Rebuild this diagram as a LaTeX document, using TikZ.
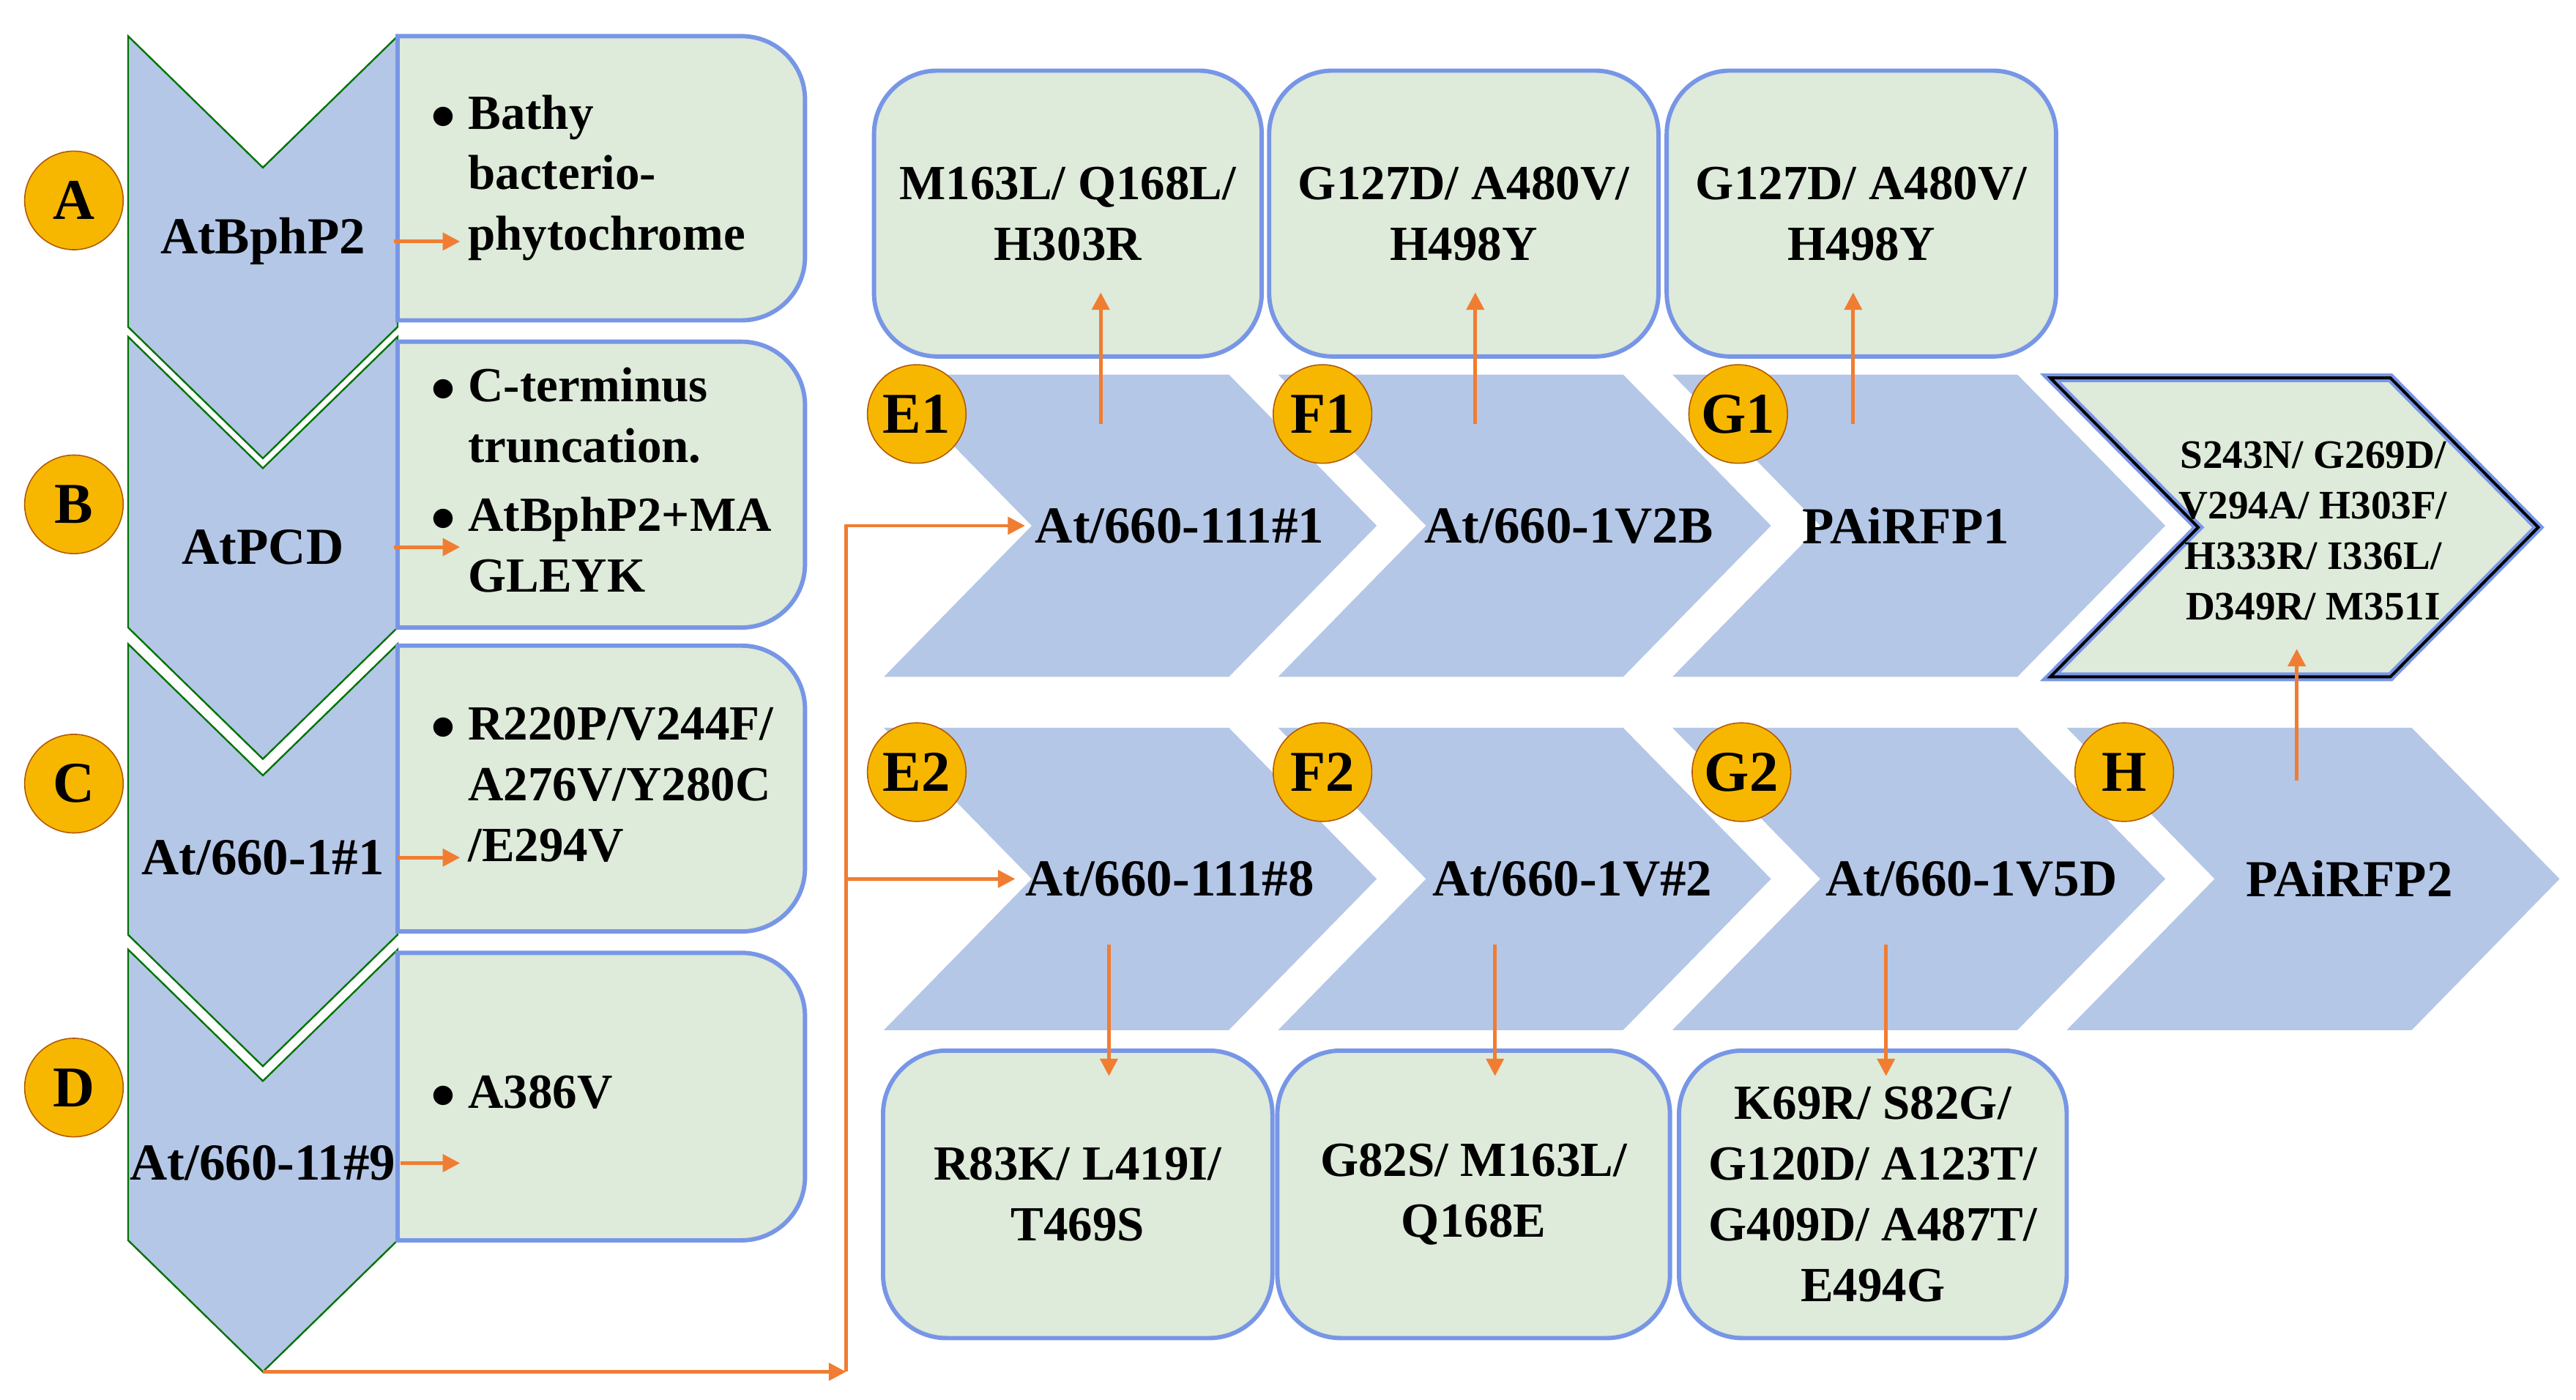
\documentclass[tikz,border=0pt]{standalone}
\usepackage{fontspec}
\setmainfont{Liberation Serif}
\usetikzlibrary{arrows.meta}
\definecolor{chevblue}{RGB}{180,199,231}
\definecolor{boxgreen}{RGB}{222,234,218}
\definecolor{glow}{RGB}{120,150,230}
\definecolor{tagorange}{RGB}{247,183,0}
\definecolor{arrorange}{RGB}{240,125,50}
\tikzset{
  chev/.style={fill=chevblue},
  lchev/.style={fill=chevblue, draw=green!45!black, line width=0.6pt},
  infobox/.style={rectangle, rounded corners=22pt, fill=boxgreen, draw=glow, line width=1.5pt, font=\fontsize{17}{21}\selectfont\bfseries},
  bullets/.style={anchor=west, inner sep=0pt, font=\fontsize{17}{21}\selectfont\bfseries},
  label/.style={font=\fontsize{18}{22}\selectfont\bfseries},
  tag/.style={circle, minimum size=60*0.02cm, inner sep=0pt, fill=tagorange, draw=orange!70!black, font=\fontsize{20}{20}\selectfont\bfseries},
  arrow/.style={draw=arrorange, line width=1.2pt, -{Triangle[length=6pt,width=6pt]}}
}
\newcommand{\downchev}[1]{\filldraw[lchev] (78,#1) -- (160,{#1+80}) -- (242,#1) -- (242,{#1+177}) -- (160,{#1+257}) -- (78,{#1+177}) -- cycle;}
\newcommand{\rightchev}[3][chev]{\fill[#1] (#2,#3) -- ({#2+210},#3) -- ({#2+300},{#3+92}) -- ({#2+210},{#3+184}) -- (#2,{#3+184}) -- ({#2+90},{#3+92}) -- cycle;}
\newcommand{\sidebox}[2]{\filldraw[fill=boxgreen, draw=glow, line width=1.5pt] (242,#1) [rounded corners=22pt] -- (490,#1) -- (490,#2) [sharp corners] -- (242,#2) -- cycle;}
\begin{document}
\begin{tikzpicture}[x=0.02cm, y=-0.02cm]
\useasboundingbox (0,0) rectangle (1568,852);

% Left column
\downchev{578}
\downchev{392}
\downchev{205}
\downchev{22}
\sidebox{22}{195}
\sidebox{208}{382}
\sidebox{393}{567}
\sidebox{580}{755}
\node (boxA) [bullets] at (262,108) {\begin{tabular}{@{}l@{\ }l@{}}$\bullet$ & Bathy\\ & bacterio-\\ & phytochrome\end{tabular}};
\node (boxB) [bullets] at (262,295) {\begin{tabular}{@{}l@{\ }l@{}}$\bullet$ & C-terminus\\ & truncation.\\[3pt] $\bullet$ & AtBphP2+MA\\ & GLEYK\end{tabular}};
\node (boxC) [bullets] at (262,480) {\begin{tabular}{@{}l@{\ }l@{}}$\bullet$ & R220P/V244F/\\ & A276V/Y280C\\ & /E294V\end{tabular}};
\node (boxD) [bullets] at (262,667) {\begin{tabular}{@{}l@{\ }l@{}}$\bullet$ & A386V\end{tabular}};
\node (labA) [label] at (160,147) {AtBphP2};
\node (labB) [label] at (160,333) {AtPCD};
\node (labC) [label] at (160,522) {At/660-1\#1};
\node (labD) [label] at (160,708) {At/660-11\#9};
\node (tagA) [tag] at (45,122) {A};
\node (tagB) [tag] at (45,307) {B};
\node (tagC) [tag] at (45,477) {C};
\node (tagD) [tag] at (45,662) {D};
\coordinate (outA) at (240,147);
\coordinate (outB) at (240,333);
\coordinate (outC) at (242,522);
\coordinate (outD) at (244,708);
\coordinate (inA) at (280,147);
\coordinate (inB) at (280,333);
\coordinate (inC) at (280,522);
\coordinate (inD) at (280,708);
\draw [arrow] (outA) -- (inA);
\draw [arrow] (outB) -- (inB);
\draw [arrow] (outC) -- (inC);
\draw [arrow] (outD) -- (inD);

% Right rows
\rightchev{538}{228}
\rightchev{778}{228}
\rightchev{1018}{228}
\filldraw[fill=boxgreen, draw=glow, line width=3pt] (1248,230) -- (1455,230) -- (1545,321) -- (1455,412) -- (1248,412) -- (1338,321) -- cycle;
\draw[line width=1pt] (1248,230) -- (1455,230) -- (1545,321) -- (1455,412) -- (1248,412) -- (1338,321) -- cycle;
\rightchev{538}{443}
\rightchev{778}{443}
\rightchev{1018}{443}
\rightchev{1258}{443}

\node (E1) [label] at (718,320) {At/660-111\#1};
\node (F1) [label] at (955,320) {At/660-1V2B};
\node (G1) [label] at (1160,320) {PAiRFP1};
\node (E2) [label] at (712,535) {At/660-111\#8};
\node (F2) [label] at (957,535) {At/660-1V\#2};
\node (G2) [label] at (1200,535) {At/660-1V5D};
\node (H) [label] at (1430,535) {PAiRFP2};
\node (mutH) [font=\fontsize{14}{17.5}\selectfont\bfseries, align=center] at (1408,323) {S243N/ G269D/\\V294A/ H303F/\\H333R/ I336L/\\D349R/ M351I};

\node (mutE1) [infobox, minimum width=236*0.02cm, minimum height=174*0.02cm, align=center] at (650,130) {M163L/ Q168L/\\H303R};
\node (mutF1) [infobox, minimum width=237*0.02cm, minimum height=174*0.02cm, align=center] at (891,130) {G127D/ A480V/\\H498Y};
\node (mutG1) [infobox, minimum width=237*0.02cm, minimum height=174*0.02cm, align=center] at (1133,130) {G127D/ A480V/\\H498Y};
\node (mutE2) [infobox, minimum width=237*0.02cm, minimum height=175*0.02cm, align=center] at (656,727) {R83K/ L419I/\\T469S};
\node (mutF2) [infobox, minimum width=239*0.02cm, minimum height=175*0.02cm, align=center] at (897,727) {G82S/ M163L/\\Q168E};
\node (mutG2) [infobox, minimum width=236*0.02cm, minimum height=175*0.02cm, align=center] at (1140,727) {K69R/ S82G/\\G120D/ A123T/\\G409D/ A487T/\\E494G};

\node (tE1) [tag] at (558,252) {E1};
\node (tF1) [tag] at (805,252) {F1};
\node (tG1) [tag] at (1058,252) {G1};
\node (tE2) [tag] at (558,470) {E2};
\node (tF2) [tag] at (805,470) {F2};
\node (tG2) [tag] at (1060,470) {G2};
\node (tH) [tag] at (1293,470) {H};

% Connectors
\coordinate (upE1) at (670,258);
\coordinate (upF1) at (898,258);
\coordinate (upG1) at (1128,258);
\coordinate (upH) at (1398,475);
\coordinate (dnE2) at (675,575);
\coordinate (dnF2) at (910,575);
\coordinate (dnG2) at (1148,575);
\draw [arrow] (upE1) -- (670,178);
\draw [arrow] (upF1) -- (898,178);
\draw [arrow] (upG1) -- (1128,178);
\draw [arrow] (upH) -- (1398,395);
\draw [arrow] (dnE2) -- (675,655);
\draw [arrow] (dnF2) -- (910,655);
\draw [arrow] (dnG2) -- (1148,655);

\coordinate (tipD) at (160,835);
\coordinate (bus) at (515,835);
\draw [arrow] (tipD) -- (bus);
\draw [arrow] (bus) -- (515,320) -- (E1.west);
\draw [arrow] (515,535) -- (E2.west);
\end{tikzpicture}
\end{document}
